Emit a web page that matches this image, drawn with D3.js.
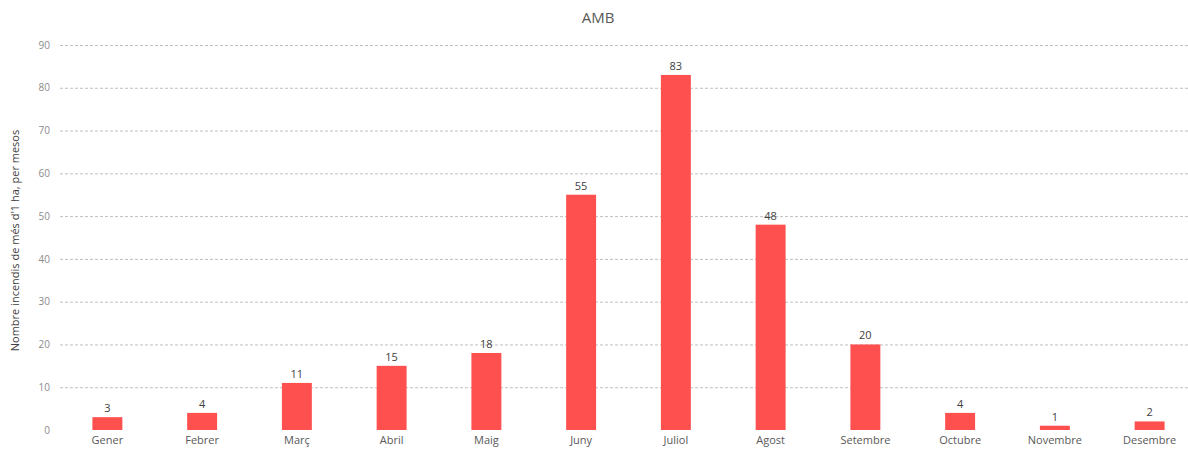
<!DOCTYPE html>
<html>
<head>
<meta charset="utf-8">
<script src="https://cdn.jsdelivr.net/npm/d3@7"></script>
<style>
  html, body { margin: 0; padding: 0; background: #fff; }
  svg { display: block; font-family: "Open Sans", "Noto Sans", sans-serif; }
</style>
</head>
<body>
<svg id="chart" width="1188" height="449"></svg>
<script>
// Monthly count of fires larger than 1 ha in the AMB area
const months = ["Gener", "Febrer", "Març", "Abril", "Maig", "Juny", "Juliol", "Agost", "Setembre", "Octubre", "Novembre", "Desembre"];
const fires = [3, 4, 11, 15, 18, 55, 83, 48, 20, 4, 1, 2];
const yTicks = [0, 10, 20, 30, 40, 50, 60, 70, 80, 90];

const svg = d3.select("#chart");
const W = 1188, H = 449;
const plot = { left: 60, right: 1197, top: 45, bottom: 430 };

const x = d3.scaleBand()
  .domain(months)
  .range([plot.left, plot.right])
  .paddingInner(0.684)
  .paddingOuter(0.342);

const y = d3.scaleLinear()
  .domain([0, 90])
  .range([plot.bottom, plot.top]);

// Title
svg.append("text")
  .attr("x", 598).attr("y", 23)
  .attr("text-anchor", "middle")
  .attr("font-size", 15)
  .attr("fill", "#595959")
  .text("AMB");

// Dashed horizontal gridlines
svg.append("g")
  .selectAll("line")
  .data(yTicks.filter(d => d > 0))
  .join("line")
  .attr("x1", plot.left).attr("x2", W)
  .attr("y1", d => y(d) + 0.5).attr("y2", d => y(d) + 0.5)
  .attr("stroke", "#bfbfbf")
  .attr("stroke-width", 1)
  .attr("stroke-dasharray", "3,2");

// Y axis labels
const yAxis = d3.axisLeft(y).tickValues(yTicks).tickSize(0).tickPadding(0);
const gy = svg.append("g")
  .attr("transform", `translate(${plot.left - 10},0)`)
  .call(yAxis);
gy.select(".domain").remove();
gy.selectAll("text")
  .attr("font-size", 10)
  .attr("font-family", "'Open Sans', 'Noto Sans', sans-serif")
  .attr("fill", "#8c8c8c");

// Y axis title
svg.append("text")
  .attr("transform", `translate(19,${(plot.top + plot.bottom) / 2 + 3}) rotate(-90)`)
  .attr("text-anchor", "middle")
  .attr("font-size", 11)
  .attr("fill", "#404040")
  .text("Nombre incendis de més d'1 ha, per mesos");

// Bars
svg.append("g")
  .selectAll("rect")
  .data(months.map((m, i) => ({ m, v: fires[i] })))
  .join("rect")
  .attr("x", d => x(d.m))
  .attr("width", x.bandwidth())
  .attr("y", d => y(d.v))
  .attr("height", d => y(0) - y(d.v))
  .attr("fill", "#ff5050");

// Value labels
svg.append("g")
  .selectAll("text")
  .data(months.map((m, i) => ({ m, v: fires[i] })))
  .join("text")
  .attr("x", d => x(d.m) + x.bandwidth() / 2)
  .attr("y", d => y(d.v) - 5)
  .attr("text-anchor", "middle")
  .attr("font-size", 11)
  .attr("fill", "#404040")
  .text(d => d.v);

// X axis labels
const xAxis = d3.axisBottom(x).tickSize(0).tickPadding(0);
const gx = svg.append("g")
  .attr("transform", `translate(0,${plot.bottom + 14})`)
  .call(xAxis);
gx.select(".domain").remove();
gx.selectAll("text")
  .attr("dy", 0)
  .attr("font-size", 11)
  .attr("font-family", "'Open Sans', 'Noto Sans', sans-serif")
  .attr("fill", "#595959");
</script>
</body>
</html>
